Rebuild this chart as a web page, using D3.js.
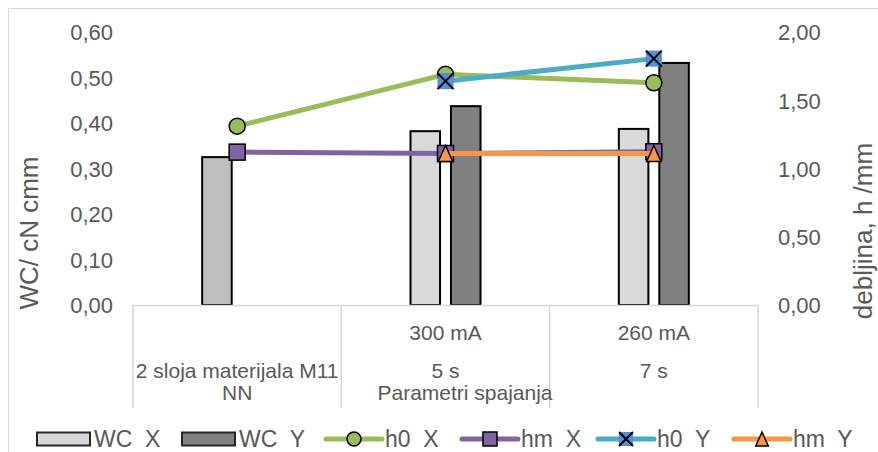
<!DOCTYPE html>
<html><head><meta charset="utf-8">
<script src="https://cdn.jsdelivr.net/npm/d3@7"></script>
<style>
body{margin:0;background:#fff}
text{font-family:"Liberation Sans",Arial,sans-serif;fill:#595959;white-space:pre}
</style>
</head><body><svg id="c" width="878" height="452"></svg>
<script>
// ---- data ----
const categories = ["c1", "c2", "c3"];
const catLine1 = ["", "300 mA", "260 mA"];
const catLine2 = ["2 sloja materijala M11", "5 s", "7 s"];
const catLine3 = ["NN", "", ""];
const barSeries = ["WC  X", "WC  Y"];
const wcX = [0.325, 0.382, 0.387];
const wcY = [null, 0.437, 0.532];
const h0X = [1.31, 1.69, 1.628];
const hmX = [1.12, 1.11, 1.123];
const h0Y = [null, 1.64, 1.805];
const hmY = [null, 1.11, 1.11];
const leftTicks = [0, 0.1, 0.2, 0.3, 0.4, 0.5, 0.6];
const rightTicks = [0, 0.5, 1, 1.5, 2];
const leftTitle = "WC/ cN cmm";
const rightTitle = "debljina, h /mm";
const xTitle = "Parametri spajanja";

// ---- layout ----
const svg = d3.select("#c");
const X0 = 133, X1 = 758, YT = 32, YB = 305;
const fmt = v => d3.format(".2f")(v).replace(".", ",");

svg.append("rect").attr("x", 8.5).attr("y", 8.5).attr("width", 900).attr("height", 460)
  .attr("fill", "#fff").attr("stroke", "#d9d9d9").attr("stroke-width", 1);

const x = d3.scaleBand().domain(categories).range([X0, X1]).padding(0);
const cx = c => x(c) + x.bandwidth() / 2;
const xi = d3.scaleBand().domain(barSeries).range([-35, 35]).paddingInner(0.27);
const yL = d3.scaleLinear().domain([0, 0.6]).range([YB, YT]);
const yR = d3.scaleLinear().domain([0, 2]).range([YB, YT]);

// left axis
const gl = svg.append("g").attr("transform", `translate(${X0 - 20},0)`)
  .call(d3.axisLeft(yL).tickValues(leftTicks).tickFormat(fmt).tickSize(0).tickPadding(0));
gl.select(".domain").remove();
gl.selectAll("text").attr("font-size", 22).style("font-family", '"Liberation Sans",Arial,sans-serif').attr("fill", "#595959").attr("dy", "0.36em");

// right axis
const gr = svg.append("g").attr("transform", `translate(${X1 + 20},0)`)
  .call(d3.axisRight(yR).tickValues(rightTicks).tickFormat(fmt).tickSize(0).tickPadding(0));
gr.select(".domain").remove();
gr.selectAll("text").attr("font-size", 22).style("font-family", '"Liberation Sans",Arial,sans-serif').attr("fill", "#595959").attr("dy", "0.36em");

// axis titles
svg.append("text").attr("transform", "translate(38,233) rotate(-90)")
  .attr("text-anchor", "middle").attr("font-size", 26).text(leftTitle);
svg.append("text").attr("transform", "translate(872,231) rotate(-90)")
  .attr("text-anchor", "middle").attr("font-size", 26).text(rightTitle);

// bars
const barFill = ["#d9d9d9", "#808080"];
const firstFill = "#bfbfbf";
[wcX, wcY].forEach((vals, si) => {
  svg.append("g").selectAll("rect").data(categories.map((c, i) => ({c, i, v: vals[i]})).filter(d => d.v != null))
    .join("rect")
    .attr("x", d => cx(d.c) + xi(barSeries[si]))
    .attr("width", xi.bandwidth())
    .attr("y", d => yL(d.v))
    .attr("height", d => YB - yL(d.v))
    .attr("fill", d => (si === 0 && d.i === 0) ? firstFill : barFill[si])
    .attr("stroke", "#000").attr("stroke-width", 2);
});

// category axis
const ga = svg.append("g");
ga.append("line").attr("x1", X0).attr("x2", X1).attr("y1", YB + 0.5).attr("y2", YB + 0.5)
  .attr("stroke", "#d9d9d9").attr("stroke-width", 1.5);
[...categories.map(c => x(c)), X1].forEach(px => {
  ga.append("line").attr("x1", px).attr("x2", px).attr("y1", YB).attr("y2", 408)
    .attr("stroke", "#d9d9d9").attr("stroke-width", 1.5);
});
categories.forEach((c, i) => {
  [[catLine1[i], 340], [catLine2[i], 378], [catLine3[i], 400]].forEach(([t, y]) => {
    if (t) ga.append("text").attr("x", cx(c)).attr("y", y).attr("text-anchor", "middle")
      .attr("font-size", 21).text(t);
  });
});
svg.append("text").attr("x", 465).attr("y", 400).attr("text-anchor", "middle")
  .attr("font-size", 21).text(xTitle);

// markers
function marker(g, type, px, py, s) {
  const h = s / 2;
  if (type === "circle") {
    g.append("circle").attr("cx", px).attr("cy", py).attr("r", h).attr("fill", "#9bbb59").attr("stroke", "#000").attr("stroke-width", 1.5);
  } else if (type === "square") {
    g.append("rect").attr("x", px - h).attr("y", py - h).attr("width", s).attr("height", s).attr("fill", "#8064a2").attr("stroke", "#000").attr("stroke-width", 1.5);
  } else if (type === "x") {
    g.append("rect").attr("x", px - h).attr("y", py - h).attr("width", s).attr("height", s).attr("fill", "#558ed5");
    g.append("path").attr("d", `M${px - h},${py - h}L${px + h},${py + h}M${px + h},${py - h}L${px - h},${py + h}`).attr("stroke", "#000").attr("stroke-width", 2);
  } else if (type === "tri") {
    g.append("path").attr("d", `M${px},${py - h}L${px + h * 0.9},${py + h}L${px - h * 0.9},${py + h}Z`).attr("fill", "#f79646").attr("stroke", "#000").attr("stroke-width", 1.5);
  }
}

const lineSeries = [
  {name: "h0  X", vals: h0X, color: "#9bbb59", m: "circle"},
  {name: "hm  X", vals: hmX, color: "#8064a2", m: "square"},
  {name: "h0  Y", vals: h0Y, color: "#4bacc6", m: "x"},
  {name: "hm  Y", vals: hmY, color: "#f79646", m: "tri"}
];
const line = d3.line().defined(d => d.v != null).x(d => cx(d.c)).y(d => yR(d.v));
lineSeries.forEach(s => {
  const g = svg.append("g");
  const pts = categories.map((c, i) => ({c, v: s.vals[i]}));
  g.append("path").attr("d", line(pts)).attr("fill", "none").attr("stroke", s.color)
    .attr("stroke-width", 5).attr("stroke-linejoin", "round");
  pts.filter(d => d.v != null).forEach(d => marker(g, s.m, cx(d.c), yR(d.v), 16));
});

// legend
const lg = svg.append("g");
const LY = 439;
const barLegX = [37, 182];
barSeries.forEach((n, i) => {
  lg.append("rect").attr("x", barLegX[i]).attr("y", LY - 6.5).attr("width", 53).attr("height", 13)
    .attr("fill", barFill[i]).attr("stroke", "#262626").attr("stroke-width", 2);
  lg.append("text").attr("x", barLegX[i] + 57).attr("y", LY + 8).attr("font-size", 23).text(n);
});
const lineLegX = [326, 462, 598, 734];
lineSeries.forEach((s, i) => {
  const x0 = lineLegX[i];
  lg.append("line").attr("x1", x0).attr("x2", x0 + 56).attr("y1", LY).attr("y2", LY)
    .attr("stroke", s.color).attr("stroke-width", 5).attr("stroke-linecap", "round");
  marker(lg, s.m, x0 + 28, LY, 14);
  lg.append("text").attr("x", x0 + 59).attr("y", LY + 8).attr("font-size", 23).text(s.name);
});
</script>
</body></html>
